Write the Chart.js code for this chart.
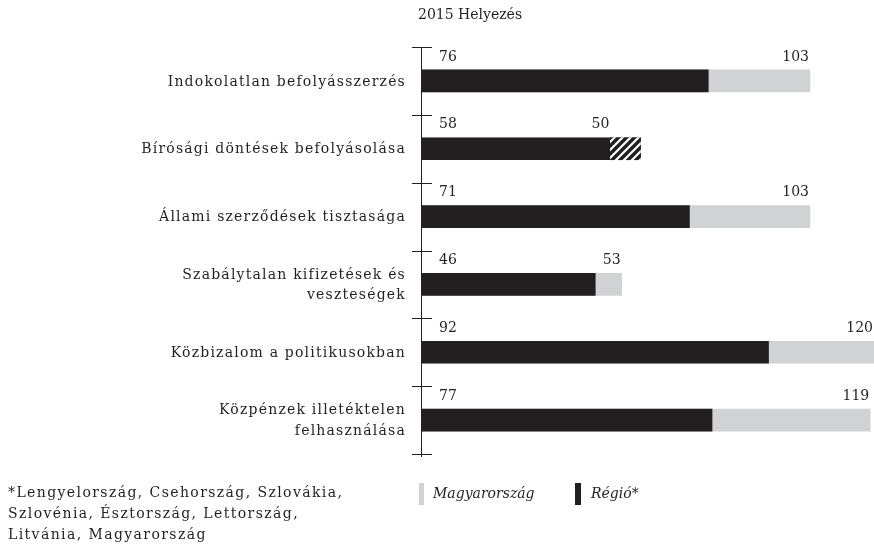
<!DOCTYPE html>
<html>
<head>
<meta charset="utf-8">
<script src="https://cdn.jsdelivr.net/npm/chart.js@4/dist/chart.umd.min.js"></script>
<style>
  body { margin:0; background:#fff; }
  #wrap { position:relative; width:874px; height:547px; }
</style>
</head>
<body>
<div id="wrap"><canvas id="graph1"></canvas></div>
<script>
// categories (multi-line labels are arrays)
const LABELS = [
    "Indokolatlan befolyásszerzés",
    "Bírósági döntések befolyásolása",
    "Állami szerződések tisztasága",
    ["Szabálytalan kifizetések és", "veszteségek"],
    "Közbizalom a politikusokban",
    ["Közpénzek illetéktelen", "felhasználása"]
];
// 2015 rank values
const REGIO  = [76, 58, 71, 46, 92, 77];
const MAGYAR = [103, 50, 103, 53, 120, 119];

const TITLE    = "2015 Helyezés";
const FOOTNOTE = ["*Lengyelország, Csehország, Szlovákia,", "Szlovénia, Észtország, Lettország,", "Litvánia, Magyarország"];

const BLACK = "#231f20";
const GREY  = "#d1d2d4";
const FONT  = "'DejaVu Serif', serif";

// hatch where the region is above Hungary
function makeHatch(){
    const c = document.createElement("canvas");
    c.width = 8; c.height = 8;
    const g = c.getContext("2d");
    g.fillStyle = BLACK;
    g.fillRect(0,0,8,8);
    g.strokeStyle = "#fff";
    g.lineWidth = 2.2;
    g.beginPath();
    g.moveTo(0,8); g.lineTo(8,0);
    g.moveTo(-4,4); g.lineTo(4,-4);
    g.moveTo(4,12); g.lineTo(12,4);
    g.stroke();
    return g.createPattern(c, "repeat");
}

const hatchData = REGIO.map((r,i) => r > MAGYAR[i] ? [MAGYAR[i], r] : null);

const textPlugin = {
    id: "texts",
    afterDraw(chart){
        const ctx = chart.ctx;
        const x = chart.scales.x;
        const y = chart.scales.y;
        const x0 = x.getPixelForValue(0);
        ctx.save();

        // axis line + ticks at category borders
        ctx.strokeStyle = BLACK;
        ctx.lineWidth = 1;
        const half = (y.getPixelForValue(1) - y.getPixelForValue(0)) / 2;
        ctx.beginPath();
        ctx.moveTo(x0 - 0.5, y.getPixelForValue(0) - half);
        ctx.lineTo(x0 - 0.5, y.getPixelForValue(LABELS.length-1) + half + 3);
        for (let i=0;i<=LABELS.length;i++){
            const ty = Math.round(y.getPixelForValue(i) - half) + 0.5;
            ctx.moveTo(x0 - 10, ty);
            ctx.lineTo(x0 + 10, ty);
        }
        ctx.stroke();

        ctx.fillStyle = BLACK;
        ctx.textBaseline = "middle";

        // category labels
        ctx.font = "14px " + FONT;
        ctx.letterSpacing = "1.2px";
        ctx.textAlign = "right";
        for (let i=0;i<LABELS.length;i++){
            const lines = Array.isArray(LABELS[i]) ? LABELS[i] : [LABELS[i]];
            const cy = y.getPixelForValue(i) + 1;
            lines.forEach((t,k) => {
                ctx.fillText(t, x0 - 16, cy + (k - (lines.length-1)/2) * 20.5);
            });
        }

        // footnote, same look as the category labels
        ctx.textAlign = "left";
        ctx.letterSpacing = "1.4px";
        FOOTNOTE.forEach((t,k) => ctx.fillText(t, 8, 493 + k*21));

        // value labels
        ctx.letterSpacing = "0px";
        ctx.font = "14px " + FONT;
        for (let i=0;i<LABELS.length;i++){
            const ly = y.getPixelForValue(i) - 24;
            ctx.textAlign = "left";
            ctx.fillText(String(REGIO[i]), x0 + 17, ly);
            ctx.textAlign = "right";
            ctx.fillText(String(MAGYAR[i]), x.getPixelForValue(MAGYAR[i]) - 1, ly);
        }

        // title
        ctx.textAlign = "left";
        ctx.font = "14px " + FONT;
        ctx.fillText(TITLE, 418, 15);

        // legend
        ctx.fillStyle = GREY;
        ctx.fillRect(419, 483, 5, 22);
        ctx.fillStyle = BLACK;
        ctx.fillRect(575, 483, 6, 22);
        ctx.font = "italic 14px " + FONT;
        ctx.fillText("Magyarország", 433, 494);
        ctx.fillText("Régió*", 591, 494);

        ctx.restore();
    }
};

window.addEventListener("load", function(){
    const ctx = document.getElementById("graph1").getContext("2d");
    new Chart(ctx, {
        type: "bar",
        data: {
            labels: LABELS,
            datasets: [
                { label:"hatch",        data:hatchData, backgroundColor:makeHatch(), order:0 },
                { label:"Régió*",       data:REGIO,  backgroundColor:BLACK, order:1 },
                { label:"Magyarország", data:MAGYAR, backgroundColor:GREY,  order:2 },
            ]
        },
        options: {
            indexAxis: "y",
            responsive: true,
            maintainAspectRatio: false,
            animation: false,
            layout: { padding: { left:422, right:0, top:47, bottom:93 } },
            datasets: { bar: { grouped:false, barThickness:22, borderWidth:0 } },
            scales: {
                x: { display:false, min:0, max:120 },
                y: { display:false }
            },
            plugins: {
                legend: { display:false },
                tooltip: { enabled:false }
            }
        },
        plugins: [textPlugin]
    });
});
</script>
</body>
</html>
